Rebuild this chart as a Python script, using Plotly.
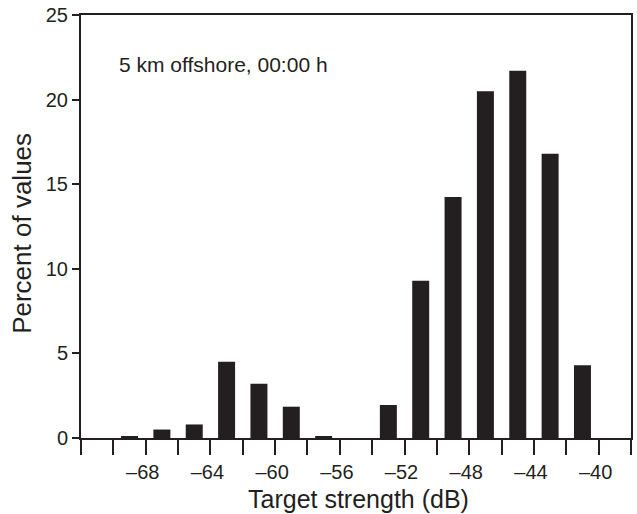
import plotly.graph_objects as go

# Data
bin_centers = [-69, -67, -65, -63, -61, -59, -57, -55, -53, -51, -49, -47, -45, -43, -41]
percent = [0.12, 0.5, 0.8, 4.5, 3.2, 1.85, 0.12, 0.0, 1.95, 9.3, 14.25, 20.5, 21.7, 16.8, 4.3]
tick_positions = list(range(-72, -37, 2))
labeled_ticks = [-68, -64, -60, -56, -52, -48, -44, -40]
y_ticks = [0, 5, 10, 15, 20, 25]

ink = "#231f20"
font_family = "Liberation Sans, Arial, Helvetica, sans-serif"

tick_text = [("\u2013" + str(abs(v))) if v in labeled_ticks else "" for v in tick_positions]

fig = go.Figure()
fig.add_trace(go.Bar(
    x=bin_centers, y=percent, width=1.05,
    marker=dict(color=ink, line=dict(width=0)),
))

fig.update_layout(
    width=637, height=514,
    margin=dict(l=81, r=4, t=12, b=76),
    paper_bgcolor="white", plot_bgcolor="white",
    showlegend=False,
    font=dict(family=font_family, color=ink, size=20),
    xaxis=dict(
        range=[-72, -38], tickmode="array", tickvals=tick_positions, ticktext=tick_text,
        ticks="outside", ticklen=15, tickwidth=2, tickcolor=ink,
        showline=True, linewidth=2, linecolor=ink, mirror=True,
        showgrid=False, zeroline=False, ticklabelshift=-3,
        tickfont=dict(size=20, color=ink),
    ),
    yaxis=dict(
        range=[0, 25], tickmode="array", tickvals=y_ticks,
        ticks="outside", ticklen=7, tickwidth=2, tickcolor=ink,
        showline=True, linewidth=2, linecolor=ink, mirror=True,
        showgrid=False, zeroline=False,
        tickfont=dict(size=20, color=ink),
    ),
    annotations=[
        dict(text="5 km offshore, 00:00 h", xref="paper", yref="paper",
             x=0.065, y=0.8826, xanchor="left", yanchor="middle", showarrow=False,
             font=dict(size=21, color=ink)),
        dict(text="Target strength (dB)", xref="paper", yref="paper",
             x=0.505, y=-0.145, xanchor="center", yanchor="middle", showarrow=False,
             font=dict(size=25, color=ink)),
        dict(text="Percent of values", xref="paper", yref="paper",
             x=-0.107, y=0.483, xanchor="center", yanchor="middle", showarrow=False,
             textangle=-90, font=dict(size=26, color=ink)),
    ],
)

fig.write_html("out.html")
